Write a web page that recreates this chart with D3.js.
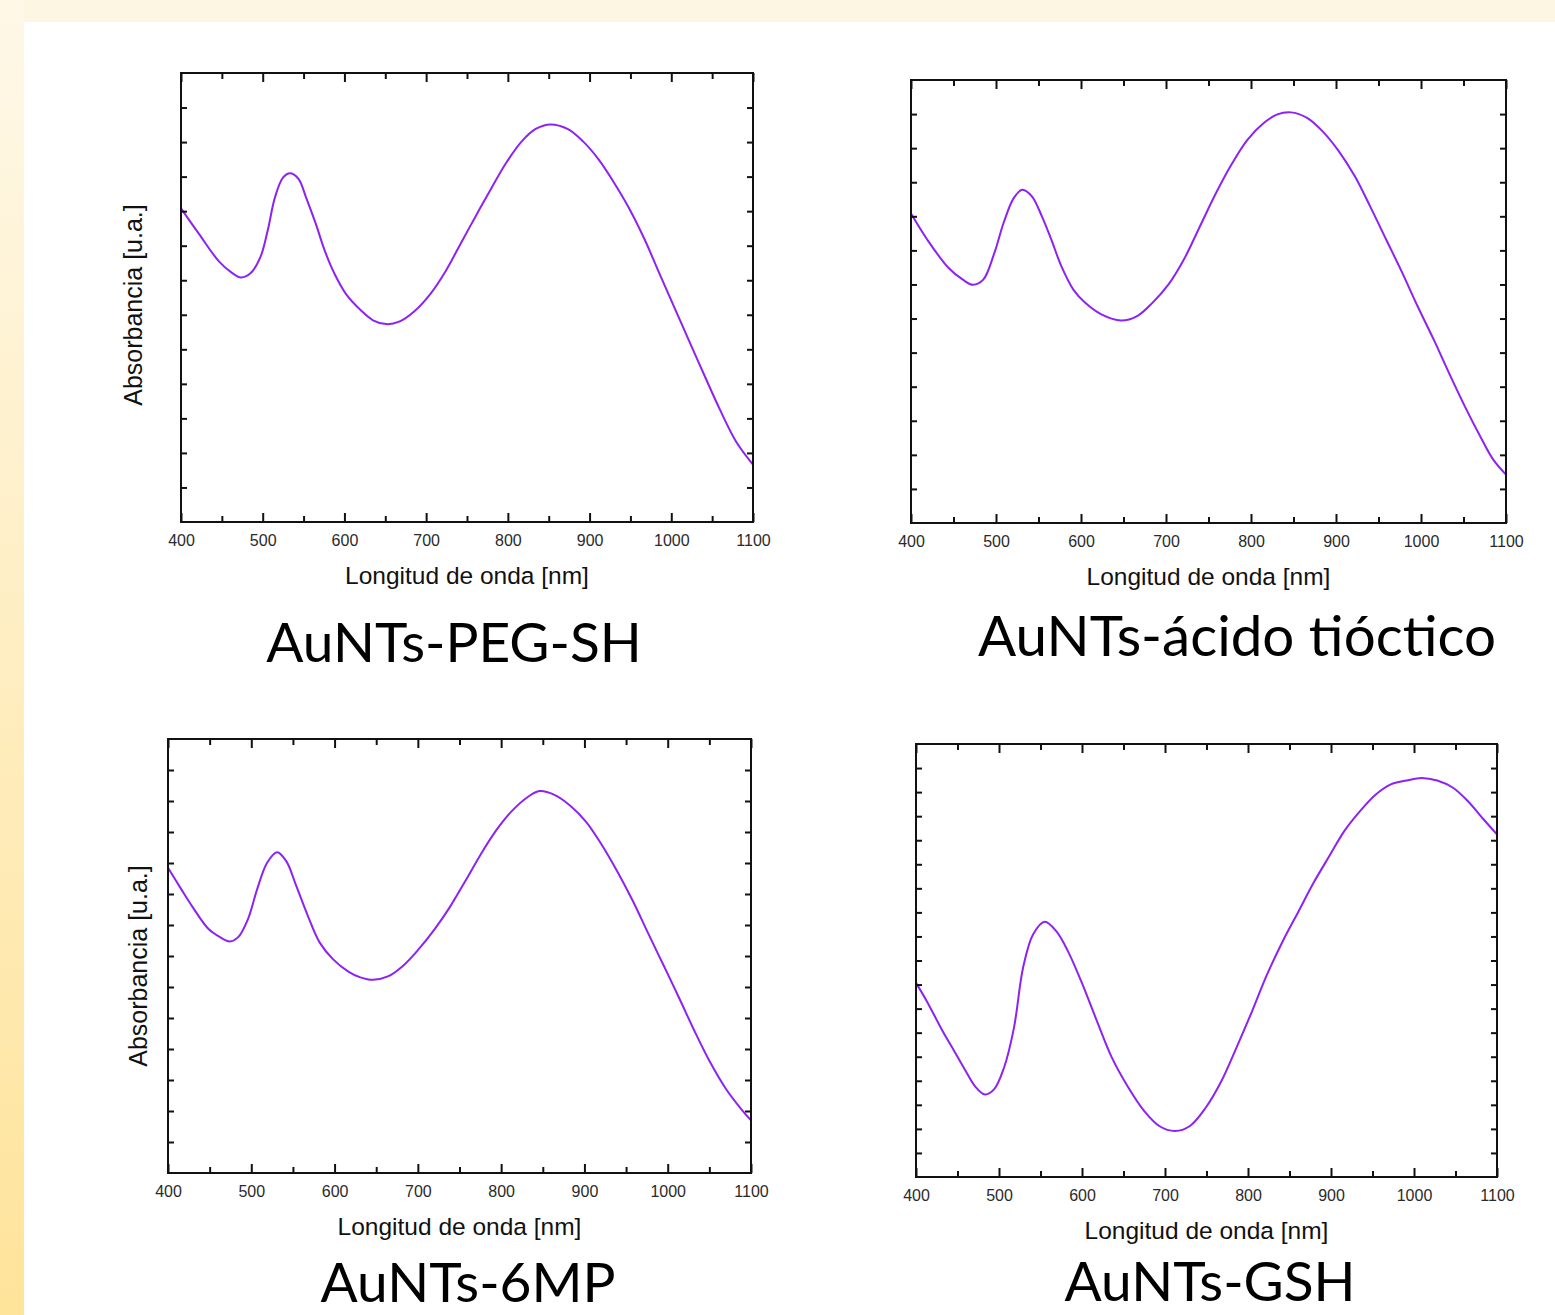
<!DOCTYPE html>
<html>
<head>
<meta charset="utf-8">
<script src="https://cdn.jsdelivr.net/npm/d3@7"></script>
<style>
  body { margin: 0; background: #fff; }
  svg text { font-family: "Liberation Sans", Arial, sans-serif; }
</style>
</head>
<body>
<svg id="chart" width="1555" height="1315"></svg>
<script>
// wavelength axis
const xMajorTicks = [400, 500, 600, 700, 800, 900, 1000, 1100];
const xMinorTicks = [450, 550, 650, 750, 850, 950, 1050];

// absorbance, in units of one y tick step above the bottom of each frame
const pegSH = [
  [400, 9.08], [422, 8.34], [447, 7.53], [462, 7.22], [473, 7.08], [485, 7.20],
  [497, 7.66], [506, 8.43], [515, 9.40], [525, 9.98], [534, 10.10], [544, 9.93],
  [553, 9.40], [565, 8.63], [576, 7.85], [588, 7.18], [602, 6.60], [621, 6.11],
  [635, 5.84], [651, 5.73], [667, 5.80], [686, 6.11], [705, 6.60], [724, 7.27],
  [742, 8.05], [761, 8.87], [780, 9.67], [798, 10.40], [817, 11.02], [834, 11.38],
  [852, 11.51], [873, 11.38], [892, 11.02], [911, 10.50], [929, 9.86], [948, 9.10],
  [967, 8.20], [985, 7.22], [1004, 6.20], [1023, 5.18], [1041, 4.22], [1060, 3.23],
  [1079, 2.34], [1100, 1.66]
];
const acidoTioctico = [
  [400, 9.08], [419, 8.32], [444, 7.49], [461, 7.14], [473, 6.99], [485, 7.14],
  [498, 7.92], [509, 8.81], [521, 9.54], [531, 9.78], [542, 9.59], [554, 9.00],
  [565, 8.32], [577, 7.53], [591, 6.85], [605, 6.46], [624, 6.12], [647, 5.94],
  [666, 6.07], [684, 6.46], [703, 7.00], [721, 7.73], [740, 8.71], [759, 9.69],
  [777, 10.52], [796, 11.25], [815, 11.74], [831, 11.99], [847, 12.05], [866, 11.89],
  [884, 11.50], [903, 10.92], [922, 10.18], [940, 9.30], [959, 8.32], [978, 7.34],
  [996, 6.36], [1015, 5.38], [1033, 4.40], [1052, 3.40], [1071, 2.48], [1085, 1.86],
  [1100, 1.42]
];
const mp6 = [
  [400, 9.85], [416, 9.15], [430, 8.56], [449, 7.86], [463, 7.60], [474, 7.47],
  [484, 7.60], [496, 8.19], [507, 9.15], [519, 10.01], [531, 10.35], [542, 10.06],
  [554, 9.26], [568, 8.29], [582, 7.44], [598, 6.90], [617, 6.49], [631, 6.31],
  [646, 6.23], [664, 6.34], [682, 6.68], [701, 7.22], [720, 7.86], [738, 8.56],
  [757, 9.42], [776, 10.30], [794, 11.05], [813, 11.68], [832, 12.13], [846, 12.32],
  [864, 12.20], [883, 11.85], [902, 11.33], [920, 10.62], [939, 9.75], [958, 8.78],
  [976, 7.76], [995, 6.70], [1014, 5.63], [1032, 4.59], [1051, 3.57], [1070, 2.71],
  [1088, 2.07], [1100, 1.70]
];
const gsh = [
  [400, 8.07], [413, 7.31], [432, 6.07], [446, 5.24], [460, 4.40], [471, 3.78],
  [483, 3.43], [494, 3.64], [506, 4.54], [518, 6.20], [529, 8.70], [541, 10.08],
  [555, 10.61], [569, 10.22], [583, 9.39], [599, 8.14], [618, 6.48], [636, 4.96],
  [656, 3.71], [675, 2.74], [693, 2.12], [712, 1.91], [730, 2.12], [749, 2.88],
  [768, 3.99], [786, 5.37], [805, 6.90], [823, 8.42], [842, 9.81], [861, 11.05],
  [879, 12.23], [898, 13.34], [916, 14.38], [935, 15.21], [954, 15.90], [972, 16.32],
  [991, 16.48], [1009, 16.59], [1028, 16.48], [1047, 16.18], [1065, 15.62],
  [1084, 14.86], [1100, 14.24]
];

const sampleNames = ["AuNTs-PEG-SH", "AuNTs-ácido tióctico", "AuNTs-6MP", "AuNTs-GSH"];
const ySteps = [13, 13, 14, 18];
const xTitle = "Longitud de onda [nm]";
const yTitle = "Absorbancia [u.a.]";

const width = 1555, height = 1315;
const lineColor = "#8c22f5";

const panels = [
  { data: pegSH,         box: [181, 753, 73, 522],   yLabel: [133, 305], name: [454, 662],  size: 55 },
  { data: acidoTioctico, box: [911, 1506, 80, 523],  yLabel: null,       name: [1237, 656], size: 56.5 },
  { data: mp6,           box: [168, 751, 739, 1173], yLabel: [138, 966], name: [468, 1302], size: 55 },
  { data: gsh,           box: [916, 1497, 744, 1177], yLabel: null,      name: [1210, 1301], size: 55 }
];

const svg = d3.select("#chart");

// slide background
const defs = svg.append("defs");
const grad = defs.append("linearGradient")
  .attr("id", "strip").attr("x1", 0).attr("y1", 0).attr("x2", 0).attr("y2", 1);
grad.append("stop").attr("offset", "0%").attr("stop-color", "#fef8e8");
grad.append("stop").attr("offset", "100%").attr("stop-color", "#fee39a");

svg.append("rect").attr("width", width).attr("height", height).attr("fill", "#fdf6e3");
svg.append("rect").attr("x", 0).attr("y", 0).attr("width", 24).attr("height", height).attr("fill", "url(#strip)");
svg.append("rect").attr("x", 24).attr("y", 22).attr("width", width - 24).attr("height", height - 22).attr("fill", "#fff");

panels.forEach((p, i) => {
  const [x0, x1, y0, y1] = p.box;
  const n = ySteps[i];

  const x = d3.scaleLinear().domain([400, 1100]).range([x0, x1]);
  const y = d3.scaleLinear().domain([0, n]).range([y1, y0]);
  const yTicks = d3.range(1, n);

  const g = svg.append("g");

  // curve
  g.append("path")
    .datum(p.data)
    .attr("fill", "none")
    .attr("stroke", lineColor)
    .attr("stroke-width", 2)
    .attr("d", d3.line().x(d => x(d[0])).y(d => y(d[1])).curve(d3.curveCatmullRom.alpha(0.5)));

  // inward ticks on all four sides
  const tickStyle = sel => {
    sel.select(".domain").remove();
    sel.selectAll(".tick line").attr("stroke", "#111").attr("stroke-width", 2);
  };

  g.append("g").attr("transform", `translate(0,${y1})`)
    .call(d3.axisBottom(x).tickValues(xMinorTicks).tickSize(-6).tickFormat(""))
    .call(tickStyle);
  g.append("g").attr("transform", `translate(0,${y0})`)
    .call(d3.axisTop(x).tickValues(xMinorTicks).tickSize(-6).tickFormat(""))
    .call(tickStyle);
  g.append("g").attr("transform", `translate(0,${y0})`)
    .call(d3.axisTop(x).tickValues(xMajorTicks).tickSize(-9).tickFormat(""))
    .call(tickStyle);

  const bottom = g.append("g").attr("transform", `translate(0,${y1})`)
    .call(d3.axisBottom(x).tickValues(xMajorTicks).tickSize(-9).tickPadding(13).tickFormat(d3.format("d")))
    .call(tickStyle);
  bottom.selectAll("text")
    .attr("fill", "#2a2a2a")
    .style("font-size", "16px");

  g.append("g").attr("transform", `translate(${x0},0)`)
    .call(d3.axisLeft(y).tickValues(yTicks).tickSize(-6).tickFormat(""))
    .call(tickStyle);
  g.append("g").attr("transform", `translate(${x1},0)`)
    .call(d3.axisRight(y).tickValues(yTicks).tickSize(-6).tickFormat(""))
    .call(tickStyle);

  // frame
  g.append("rect")
    .attr("x", x0).attr("y", y0)
    .attr("width", x1 - x0).attr("height", y1 - y0)
    .attr("fill", "none").attr("stroke", "#111").attr("stroke-width", 2);

  // axis titles
  g.append("text")
    .attr("x", (x0 + x1) / 2).attr("y", y1 + 62)
    .attr("text-anchor", "middle")
    .attr("fill", "#111")
    .style("font-size", "24.5px")
    .text(xTitle);

  if (p.yLabel) {
    g.append("text")
      .attr("transform", `translate(${p.yLabel[0]},${p.yLabel[1]}) rotate(-90)`)
      .attr("text-anchor", "middle")
      .attr("dy", "0.35em")
      .attr("fill", "#111")
      .style("font-size", "25px")
      .text(yTitle);
  }

  // sample name under each plot
  svg.append("text")
    .attr("x", p.name[0]).attr("y", p.name[1])
    .attr("text-anchor", "middle")
    .attr("fill", "#000")
    .style("font-family", "Lato, 'Open Sans', sans-serif")
    .style("font-size", p.size + "px")
    .text(sampleNames[i]);
});
</script>
</body>
</html>
